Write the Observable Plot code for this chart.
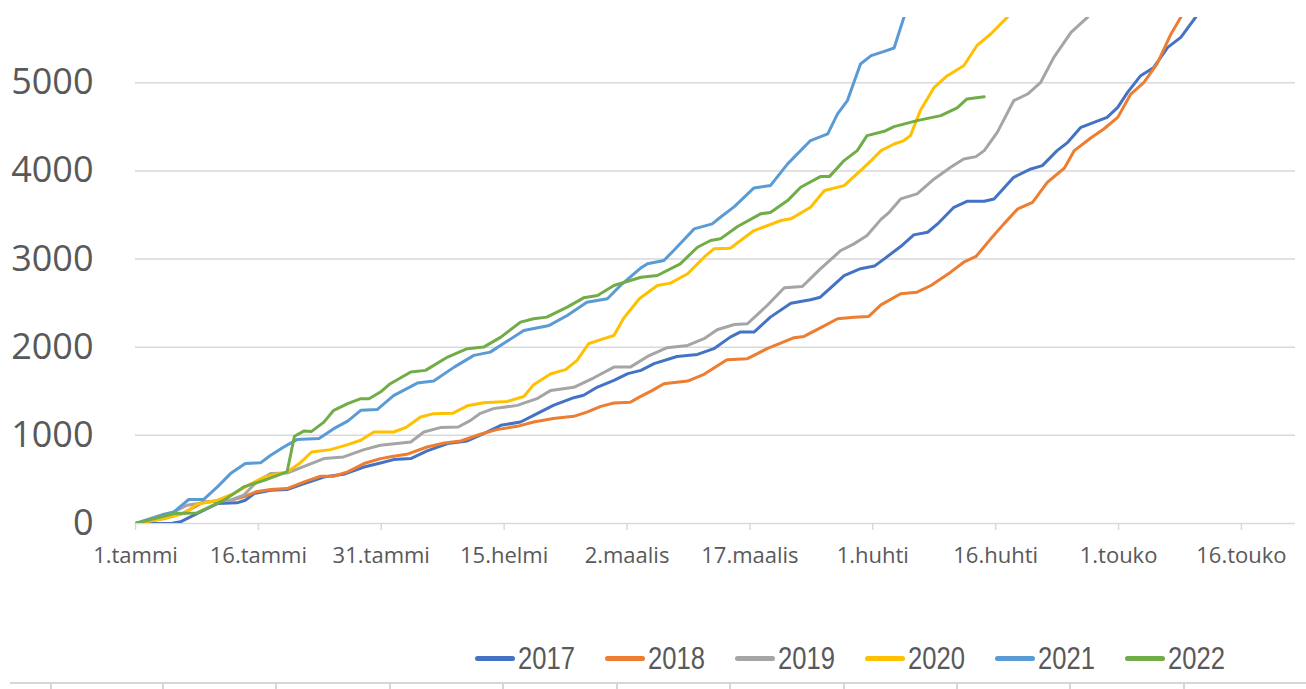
<!DOCTYPE html>
<html>
<head>
<meta charset="utf-8">
<script src="https://cdn.jsdelivr.net/npm/d3@7"></script>
<script src="https://cdn.jsdelivr.net/npm/@observablehq/plot@0.6"></script>
<style>
  html, body { margin: 0; padding: 0; background: #fff; overflow: hidden; }
  #wrap { position: relative; width: 1306px; height: 689px; }
  #legend { position: absolute; top: 640px; left: 475px; display: flex; align-items: center;
    font-family: "Liberation Sans", Arial, sans-serif; font-size: 32px; color: #595959; }
  .item { display: flex; align-items: center; width: 130px; }
  .item:last-child { width: auto; }
  .swatch { width: 40px; height: 5px; border-radius: 3px; margin-right: 3px; }
  .label { display: inline-block; transform: scaleX(0.8); transform-origin: left center; }
  #sheet { position: absolute; top: 682px; left: 10px; right: 0; height: 7px; border-top: 2px solid #d6d6d6; }
  .vline { position: absolute; top: 0; width: 1.5px; height: 7px; background: #d6d6d6; }
</style>
</head>
<body>
<div id="wrap">
  <div id="chart"></div>
  <div id="legend"></div>
  <div id="sheet"></div>
</div>
<script>
// x = days since 1 January; y = cumulative count
const years = ["2017", "2018", "2019", "2020", "2021", "2022"];
const colors = ["#4472c4", "#ed7d31", "#a5a5a5", "#ffc000", "#5b9bd5", "#70ad47"];
const xTickDays = [0, 15, 30, 45, 60, 75, 90, 105, 120, 135];
const xTickLabels = ["1.tammi", "16.tammi", "31.tammi", "15.helmi", "2.maalis", "17.maalis", "1.huhti", "16.huhti", "1.touko", "16.touko"];
const yTicks = [0, 1000, 2000, 3000, 4000, 5000];

const s2017 = [[0,0],[4.5,3],[5.5,19],[7.5,113],[10,226],[12.4,234],[13.4,264],[14.5,340],[16.5,377],[18.5,385],[20.6,453],[23,528],[25.4,558],[27.9,641],[29.9,687],[31.5,725],[33.6,736],[35.6,823],[38.1,906],[40.5,936],[42.5,1020],[44.6,1114],[47,1151],[48.6,1227],[51,1340],[53.5,1427],[54.7,1454],[56.4,1548],[58.4,1624],[60.1,1700],[61.7,1737],[63.3,1813],[66.1,1895],[68.6,1918],[70.6,1983],[72.6,2114],[73.8,2171],[75.5,2171],[77.5,2341],[80,2499],[82.4,2538],[83.6,2567],[86.5,2813],[88.5,2890],[90.2,2920],[91.4,3002],[93.4,3142],[95,3274],[96.7,3304],[97.9,3398],[99.9,3587],[101.5,3655],[103.6,3655],[104.8,3682],[107.2,3927],[109.3,4022],[110.7,4060],[112.5,4230],[113.8,4324],[115.4,4494],[117,4551],[118.6,4607],[119.9,4720],[121.1,4890],[122.7,5080],[124.3,5174],[126,5401],[127.6,5514],[129.4,5742],[131,5950]];
const s2018 = [[0,0],[3.5,57],[5.9,120],[8.3,245],[11.6,264],[13.2,302],[14.7,359],[16.5,385],[18.5,396],[20.6,472],[22.6,536],[24.2,536],[25.9,585],[27.9,680],[29.9,736],[31.5,763],[33.1,785],[35.6,868],[37.7,913],[39.7,936],[42.1,1012],[44.1,1065],[46.6,1102],[48.6,1151],[51,1190],[53.5,1216],[55.1,1264],[56.8,1329],[58.4,1367],[60.4,1375],[61.5,1434],[63.1,1510],[64.5,1586],[67.4,1616],[69.4,1692],[72.2,1858],[74.7,1870],[77.1,1983],[80.4,2108],[81.6,2122],[83.6,2220],[85.7,2323],[87.7,2341],[89.5,2349],[91,2480],[93.4,2606],[95.4,2624],[97.1,2700],[99.5,2851],[101.1,2964],[102.6,3029],[104.4,3229],[106,3399],[107.7,3569],[109.5,3644],[111.3,3870],[113.4,4033],[114.6,4230],[116.6,4373],[118.2,4475],[119.9,4607],[121.5,4871],[123.1,5005],[124.7,5213],[126.4,5553],[127.6,5742],[129,5950]];
const s2019 = [[0,0],[3.5,76],[6.3,207],[8.8,245],[11.6,264],[13.2,321],[14.8,472],[16.5,566],[18.5,573],[20.9,660],[23,736],[25.4,755],[27.9,838],[29.9,887],[33.6,925],[35.2,1038],[37.2,1088],[39.4,1095],[40.9,1170],[42.1,1250],[43.7,1303],[46.6,1340],[49,1416],[50.7,1510],[53.5,1545],[55.9,1650],[58.4,1774],[60.4,1774],[62.5,1895],[64.9,1994],[67.4,2020],[69.4,2096],[71,2198],[73.1,2258],[74.7,2266],[77.1,2473],[79.2,2674],[81.4,2689],[83.6,2889],[86.1,3097],[87.7,3172],[89.3,3267],[91,3450],[92,3530],[93.4,3682],[95.4,3739],[97.5,3909],[99.5,4041],[101.1,4135],[102.6,4162],[103.6,4230],[105.2,4437],[107.2,4796],[108.9,4872],[110.5,5005],[112.1,5288],[114.2,5571],[116.2,5742],[118,5950]];
const s2020 = [[0,0],[3.5,57],[5.9,113],[7.5,219],[10,264],[12,340],[14,445],[15.7,528],[18.5,585],[20.1,687],[21.5,811],[23.8,838],[25.9,895],[27.5,944],[29.1,1038],[31.5,1038],[33.1,1094],[34.8,1208],[36.4,1246],[38.7,1250],[40.5,1335],[42.5,1370],[45.4,1385],[47.4,1440],[48.6,1575],[50.7,1699],[52.5,1745],[53.9,1850],[55.3,2039],[56.8,2085],[58.4,2133],[59.6,2330],[61.5,2550],[63.7,2700],[65.3,2727],[67.4,2833],[69.4,3021],[70.6,3116],[72.6,3123],[75.5,3323],[78.8,3437],[80,3456],[82.4,3587],[84.1,3777],[86.5,3833],[88.5,4003],[89.8,4117],[91,4230],[92.6,4305],[93.8,4344],[94.6,4400],[95.8,4684],[97.5,4948],[99.1,5080],[101.1,5193],[102.7,5420],[104.4,5553],[106.4,5742],[108,5950]];
const s2021 = [[0,0],[3.5,105],[4.7,132],[6.5,272],[8.3,272],[10,415],[11.6,566],[13.4,680],[15.3,690],[16.5,774],[18.1,868],[19.7,952],[22.4,963],[24.2,1076],[25.9,1162],[27.5,1284],[29.5,1292],[31.5,1450],[34.4,1593],[36.4,1616],[38.9,1774],[41.3,1907],[43.3,1944],[45.4,2069],[47.4,2190],[50.5,2247],[52.7,2360],[55.1,2511],[57.6,2549],[59.2,2700],[61.7,2900],[62.5,2946],[64.5,2984],[65.7,3097],[68.2,3342],[70.4,3399],[71.4,3474],[73.1,3595],[75.5,3807],[77.5,3833],[79.6,4080],[82.4,4344],[84.5,4420],[85.7,4646],[86.9,4797],[87.7,5005],[88.5,5213],[89.8,5307],[91.4,5356],[92.6,5394],[93.8,5742],[95,6000]];
const s2022 = [[0,0],[4.7,113],[7.5,120],[10.8,264],[13.2,415],[15.7,490],[18.5,585],[19.4,990],[20.6,1050],[21.5,1045],[23,1150],[24.2,1284],[25.9,1360],[27.5,1416],[28.5,1416],[29.9,1491],[31.1,1586],[33.6,1718],[35.4,1737],[38.1,1888],[40.5,1983],[42.5,2001],[44.6,2114],[47,2284],[48.6,2323],[50.2,2341],[52.7,2454],[54.7,2560],[56.4,2587],[58.4,2700],[61.7,2794],[63.7,2813],[66.5,2946],[68.6,3134],[70.2,3210],[71.4,3229],[73.5,3369],[76.3,3513],[77.5,3527],[79.6,3663],[81.2,3814],[83.6,3935],[84.7,3935],[86.5,4117],[88.1,4230],[89.3,4400],[91.4,4449],[92.6,4502],[95.4,4570],[98.3,4627],[100.3,4714],[101.5,4816],[103.6,4842]];

const seriesList = [s2017, s2018, s2019, s2020, s2021, s2022];
const rows = [];
seriesList.forEach((s, i) => s.forEach(([day, value]) => rows.push({year: years[i], day, value})));

const chart = Plot.plot({
  width: 1306,
  height: 600,
  marginLeft: 135,
  marginRight: 11,
  marginTop: 17,
  marginBottom: 77,
  style: {fontFamily: "'Open Sans', sans-serif", background: "white", overflow: "visible"},
  x: {domain: [0, 141.6]},
  y: {domain: [0, 5740]},
  color: {domain: years, range: colors},
  marks: [
    Plot.gridY(yTicks, {stroke: "#d9d9d9", strokeOpacity: 1, strokeWidth: 1.5}),
    Plot.axisY(yTicks, {tickSize: 0, tickPadding: 42, fontSize: 36, fill: "#595959", label: null,
      tickFormat: d => String(d)}),
    Plot.axisX(xTickDays, {tickSize: 7, tickPadding: 17, stroke: "#d9d9d9", strokeWidth: 1.5, fill: "#595959", fontSize: 22,
      tickFormat: d => xTickLabels[xTickDays.indexOf(d)], label: null}),
    Plot.line(rows, {x: "day", y: "value", z: "year", stroke: "year", strokeWidth: 3, strokeLinejoin: "round", clip: true})
  ]
});
document.getElementById("chart").appendChild(chart);

const legend = document.getElementById("legend");
years.forEach((y, i) => {
  const item = document.createElement("div");
  item.className = "item";
  const sw = document.createElement("span");
  sw.className = "swatch";
  sw.style.background = colors[i];
  const t = document.createElement("span");
  t.className = "label";
  t.textContent = y;
  item.appendChild(sw);
  item.appendChild(t);
  legend.appendChild(item);
});

const sheetCols = [50, 162, 275, 389, 502, 616, 729, 843, 956, 1069, 1183];
const sheet = document.getElementById("sheet");
sheetCols.forEach(x => {
  const v = document.createElement("div");
  v.className = "vline";
  v.style.left = (x - 10) + "px";
  sheet.appendChild(v);
});
</script>
</body>
</html>
